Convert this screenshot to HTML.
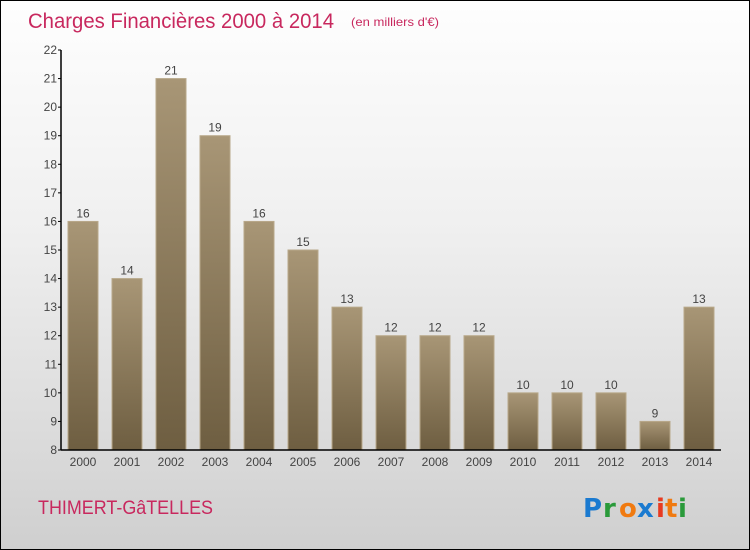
<!DOCTYPE html>
<html><head><meta charset="utf-8"><style>
body{margin:0;}
#wrap{position:relative;width:748px;height:548px;border:1px solid #000;background:linear-gradient(#fefefe,#f0f0f0 40%,#d8d8d8 85%,#cfcfcf);overflow:hidden;font-family:"Liberation Sans",sans-serif;}
</style></head><body>
<div id="wrap">
<svg width="748" height="548" id="svg">
<defs><linearGradient id="bg" x1="0" y1="0" x2="0" y2="1"><stop offset="0" stop-color="#a89676"/><stop offset="1" stop-color="#6e5e41"/></linearGradient></defs>
<text x="27" y="27" font-size="21" fill="#c8285e" textLength="306" lengthAdjust="spacingAndGlyphs">Charges Financières 2000 à 2014</text>
<text x="350" y="25" font-size="12" fill="#c8285e" textLength="88" lengthAdjust="spacingAndGlyphs">(en milliers d'€)</text>
<text x="37" y="513" font-size="19" fill="#c8285e" textLength="175" lengthAdjust="spacingAndGlyphs">THIMERT-GâTELLES</text>
<g font-size="26" font-weight="bold" font-family="'DejaVu Sans',sans-serif">
<text x="582" y="516" fill="#1a7ad0">P</text><text x="602" y="516" fill="#2a9a3a">r</text><text x="618" y="516" fill="#f07a10">o</text><text x="636" y="516" fill="#1a7ad0">x</text><text x="655" y="516" fill="#e83a20">i</text><text x="664" y="516" fill="#f07a10">t</text><text x="677" y="516" fill="#2a9a3a">i</text></g>
<g id="plot"></g>
</svg>
</div>
<script>
const years=["2000","2001","2002","2003","2004","2005","2006","2007","2008","2009","2010","2011","2012","2013","2014"];
const values=[16,14,21,19,16,15,13,12,12,12,10,10,10,9,13];
const yTicks=[8,9,10,11,12,13,14,15,16,17,18,19,20,21,22];
const NS="http://www.w3.org/2000/svg";
const g=document.getElementById('plot');
const x0=60,x1=720,yB=449,yT=49,vMin=8,vMax=22;
const step=(x1-x0)/years.length;
function ys(v){return yB-(v-vMin)/(vMax-vMin)*(yB-yT);}
function xs(i){return x0+step*i+step/2;}
function mk(t,a,txt){const e=document.createElementNS(NS,t);for(const k in a)e.setAttribute(k,a[k]);if(txt!=null)e.textContent=txt;g.appendChild(e);return e;}
values.forEach((v,i)=>{
 const b=mk('rect',{x:xs(i)-15,y:ys(v),width:30,height:yB-ys(v),fill:'url(#bg)',stroke:'#b8a88a','stroke-width':1});
 
 
 const l=mk('text',{x:xs(i),y:ys(v)-4,'font-size':12,fill:'#444','text-anchor':'middle'},String(v));
 
 
 const xl=mk('text',{x:xs(i),y:yB+16,'font-size':12,fill:'#444','text-anchor':'middle'},years[i]);
 
 
});
yTicks.forEach(t=>{
 const tk=mk('line',{x1:x0-3,x2:x0,y1:ys(t),y2:ys(t),stroke:'#000'});
 
 
 const tl=mk('text',{x:x0-4,y:ys(t)+4,'font-size':12,fill:'#444','text-anchor':'end'},String(t));
 
 
});
const ya=mk('line',{x1:x0,x2:x0,y1:yT,y2:yB,stroke:'#000','stroke-width':1.5});


const xa=mk('line',{x1:x0,x2:x1,y1:yB,y2:yB,stroke:'#000','stroke-width':1.5});


</script>
</body></html>
